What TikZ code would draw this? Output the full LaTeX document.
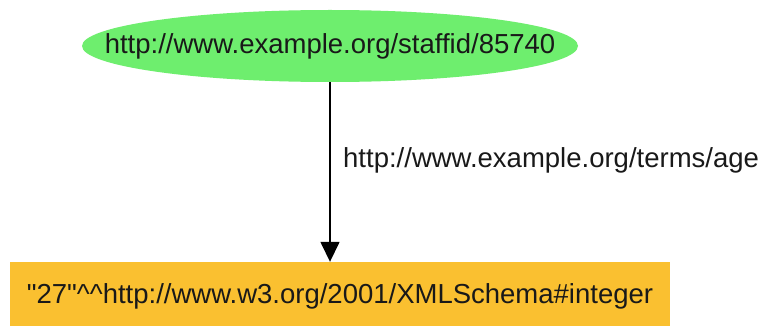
\documentclass[tikz,border=0pt]{standalone}
\usepackage{fontspec}
\setmainfont{Liberation Sans}[Ligatures=TeXOff]
\usetikzlibrary{shapes.geometric,arrows.meta}
\definecolor{resnode}{RGB}{110,238,110}
\definecolor{litnode}{RGB}{250,192,48}
\tikzset{
  every node/.style={font=\fontsize{27.5}{33}\selectfont, text=black!90},
  resource/.style={ellipse, fill=resnode, minimum width=496pt, minimum height=72pt, inner sep=0pt},
  literal/.style={rectangle, fill=litnode, minimum width=660pt, minimum height=68pt, inner sep=0pt},
  property/.style={line width=1.5pt, -{Triangle[width=19pt,length=20pt]}},
  proplabel/.style={anchor=west, inner sep=0pt}
}
\begin{document}
\begin{tikzpicture}[x=1pt,y=-1pt]
  \useasboundingbox (0,0) rectangle (767,326);
  \fill[white] (0,0) rectangle (767,326);
  % subject resource (zero-width text box so the ellipse keeps its set size)
  \node[resource] (subj) at (330,46) {\makebox[0pt]{http://www.example.org/staffid/85740}};
  % typed literal object
  \node[literal] (obj) at (340,296) {\symbol{34}27\symbol{34}\symbol{94}\symbol{94}http://www.w3.org/2001/XMLSchema\#integer};
  % predicate arc
  \draw[property] (subj.south) -- (subj.south |- obj.north);
  \node[proplabel] (pred) at (343,160) {http://www.example.org/terms/age};
\end{tikzpicture}
\end{document}
